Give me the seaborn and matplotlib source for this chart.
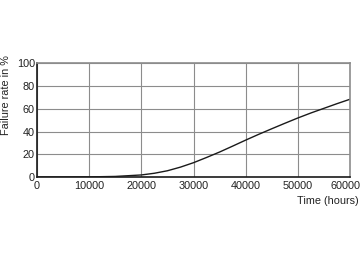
import matplotlib
matplotlib.use("Agg")
import matplotlib.pyplot as plt
import matplotlib.transforms as mtransforms
import seaborn as sns
import pandas as pd

hours = [0, 5000, 10000, 15000, 20000, 22500, 25000, 27500, 30000, 32500, 35000, 37500,
         40000, 42500, 45000, 47500, 50000, 52500, 55000, 57500, 60000]
failure = [0, 0.02, 0.1, 0.5, 1.8, 3.3, 5.5, 8.7, 12.6, 17.2, 22.0, 27.2,
           32.5, 37.6, 42.5, 47.3, 52.0, 56.4, 60.5, 64.6, 68.5]
xticks = [0, 10000, 20000, 30000, 40000, 50000, 60000]
yticks = [0, 20, 40, 60, 80, 100]

sns.set_style("white")
plt.rcParams['font.family'] = ['Liberation Sans', 'DejaVu Sans']
FS = 7.8
TXT = "#222222"

fig = plt.figure(figsize=(3.6, 2.62), dpi=100)
ax = fig.add_axes([37/360, 1-177/262, 313/360, 113.5/262])
df = pd.DataFrame({"Time": hours, "Failure": failure})
sns.lineplot(data=df, x="Time", y="Failure", ax=ax, color="#1a1a1a", lw=1.0)
ax.set_xlim(0, 60000)
ax.set_ylim(0, 100)
ax.set_xticks(xticks)
ax.set_yticks(yticks)
ax.set_xticklabels([str(t) for t in xticks])
ax.grid(True, color="#8c8c8c", lw=0.8)
ax.set_axisbelow(True)
for s in ["top", "right"]:
    ax.spines[s].set_color("#8c8c8c")
    ax.spines[s].set_linewidth(1.2)
for s in ["left", "bottom"]:
    ax.spines[s].set_color("#1a1a1a")
    ax.spines[s].set_linewidth(1.2)
ax.tick_params(axis="x", labelsize=FS, length=0, pad=3, colors=TXT)
ax.tick_params(axis="y", labelsize=FS, length=0, pad=1.5, colors=TXT)
last = ax.get_xticklabels()[-1]
last.set_transform(last.get_transform() + mtransforms.ScaledTranslation(-5/100, 0, fig.dpi_scale_trans))
ax.set_xlabel("")
ax.set_ylabel("")
fig.text(6/360, 1-95/262, "Failure rate in %", rotation=90, ha="center", va="center",
         fontsize=FS, color=TXT)
fig.text(359/360, 1-201/262, "Time (hours)", ha="right", va="center", fontsize=FS, color=TXT)
fig.savefig("out.png", dpi=100)
